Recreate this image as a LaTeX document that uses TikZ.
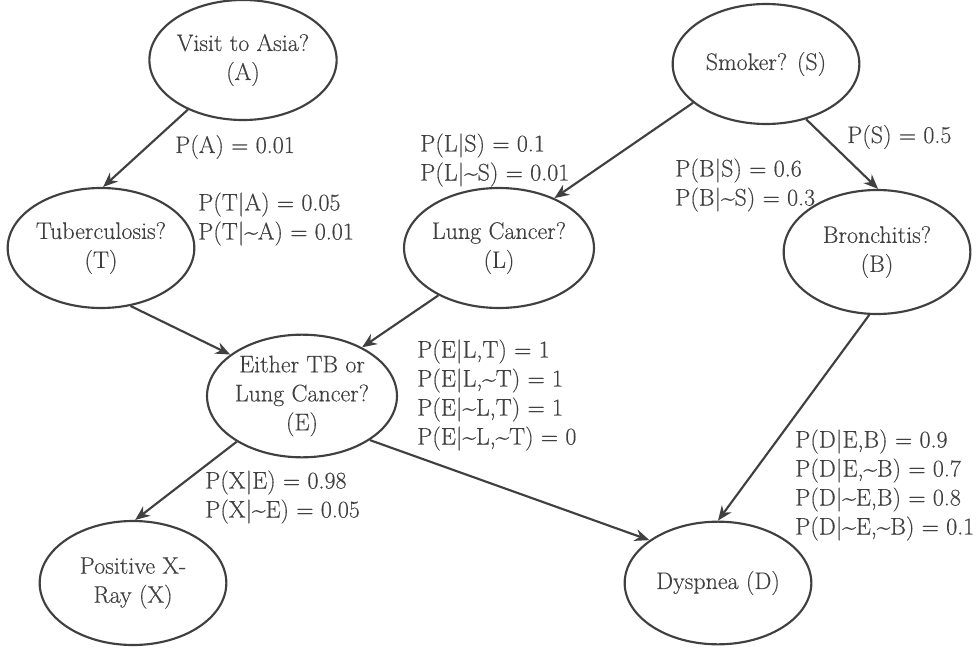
\documentclass[tikz,border=0pt]{standalone}
\usepackage{fontspec}
\newfontfamily\lmheavy{Latin Modern Roman}[FakeBold=0.35]
\usetikzlibrary{shapes.geometric,arrows.meta}
\definecolor{ink}{HTML}{404040}
\newcommand{\tl}{\textasciitilde}
\begin{document}
\begin{tikzpicture}[x=0.75pt,y=-0.75pt,
  every node/.style={text=ink,font=\lmheavy\fontsize{18}{21.75}\selectfont},
  bnode/.style={ellipse,draw=ink,line width=1.6pt,minimum width=140pt,minimum height=90pt,inner sep=0pt,align=center},
  prob/.style={anchor=west,inner sep=0pt,align=left},
  edge/.style={draw=ink,line width=1.6pt,-{Stealth[length=11pt,width=9pt]}}]
\useasboundingbox (0,0) rectangle (977,649);
\node[bnode] (A) at (243,60) {Visit to Asia?\\(A)};
\node[bnode] (T) at (101,248) {Tuberculosis?\\(T)};
\node[bnode] (L) at (499,248) {Lung Cancer?\\(L)};
\node[bnode] (S) at (766,64) {Smoker? (S)};
\node[bnode,minimum height=93pt] (B) at (877,252) {Bronchitis?\\(B)};
\node[bnode,minimum height=92pt] (E) at (302,396) {Either TB or\\Lung Cancer?\\(E)};
\node[bnode,minimum height=93pt] (X) at (133,583) {Positive X-\\Ray (X)};
\node[bnode,minimum height=92pt] (D) at (718,583) {Dyspnea (D)};
\draw[edge] (A.222) -- (T.88);
\draw[edge] (S.208) -- (L.42);
\draw[edge] (S.306) -- (B.89);
\draw[edge] (T.297) -- (E.150);
\draw[edge] (L.218) -- (E.39);
\draw[edge] (E.215) -- (X.88);
\draw[edge] (E.327) -- (D.148);
\draw[edge] (B.263) -- (D.90);
\node[prob] (pA) at (175,147) {P(A) = 0.01};
\node[prob] (pT) at (198,219) {P(T|A) = 0.05\\P(T|\tl A) = 0.01};
\node[prob] (pL) at (420,160) {P(L|S) = 0.1\\P(L|\tl S) = 0.01};
\node[prob] (pB) at (675,185) {P(B|S) = 0.6\\P(B|\tl S) = 0.3};
\node[prob] (pS) at (847,137) {P(S) = 0.5};
\node[prob] (pE) at (417,395) {P(E|L,T) = 1\\P(E|L,\tl T) = 1\\P(E|\tl L,T) = 1\\P(E|\tl L,\tl T) = 0};
\node[prob] (pX) at (205,497) {P(X|E) = 0.98\\P(X|\tl E) = 0.05};
\node[prob] (pD) at (795,485) {P(D|E,B) = 0.9\\P(D|E,\tl B) = 0.7\\P(D|\tl E,B) = 0.8\\P(D|\tl E,\tl B) = 0.1};
\end{tikzpicture}
\end{document}
